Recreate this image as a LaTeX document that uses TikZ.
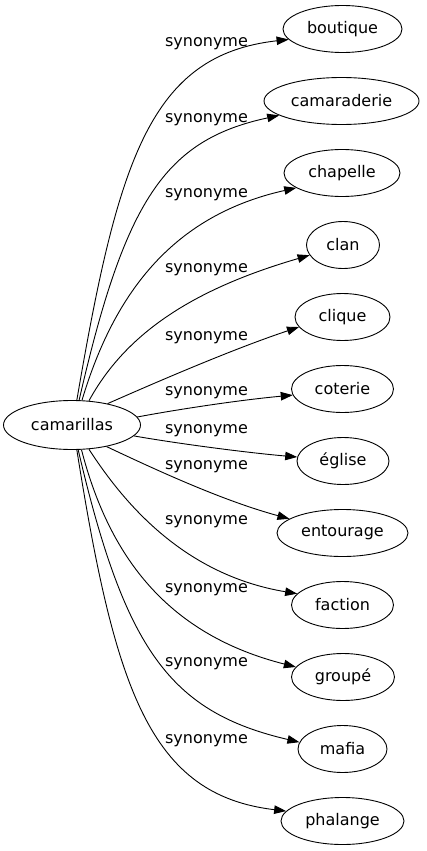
\documentclass[tikz,border=0pt]{standalone}
\usepackage{fontspec}
\setmainfont{DejaVu Sans}
\usetikzlibrary{shapes.geometric,arrows.meta}
\begin{document}
\begin{tikzpicture}[x=1pt,y=-1pt,
  word/.style={draw,ellipse,minimum height=47pt,inner sep=0pt,line width=0.9pt,
    font=\fontsize{16}{19}\selectfont},
  syn/.style={inner sep=0pt,font=\fontsize{16}{19}\selectfont},
  arc/.style={-{Triangle[length=12pt,width=8.5pt]},line width=0.9pt}]
\useasboundingbox (0,0) rectangle (426,851);

\node[word,minimum width=137pt,minimum height=49pt] (cam) at (72,425) {camarillas};

\node[word,minimum width=119pt] (boutique) at (342.5,29) {boutique};
\node[word,minimum width=155pt] (camaraderie) at (341.5,101) {camaraderie};
\node[word,minimum width=116pt] (chapelle) at (342,173) {chapelle};
\node[word,minimum width=73pt] (clan) at (343,245) {clan};
\node[word,minimum width=95pt] (clique) at (342.5,317) {clique};
\node[word,minimum width=102pt] (coterie) at (342.5,389) {coterie};
\node[word,minimum width=92pt] (eglise) at (343,461) {église};
\node[word,minimum width=131pt] (entourage) at (342.5,533) {entourage};
\node[word,minimum width=102pt] (faction) at (342.5,605) {faction};
\node[word,minimum width=103pt] (groupe) at (343,677) {groupé};
\node[word,minimum width=89pt] (mafia) at (342.5,749) {mafia};
\node[word,minimum width=123pt] (phalange) at (342.5,821) {phalange};

\node[syn] (l1) at (206.5,44) {synonyme};
\node[syn] (l2) at (206.5,120) {synonyme};
\node[syn] (l3) at (206.5,195) {synonyme};
\node[syn] (l4) at (206.5,270) {synonyme};
\node[syn] (l5) at (206.5,338) {synonyme};
\node[syn] (l6) at (206.5,393) {synonyme};
\node[syn] (l7) at (206.5,431) {synonyme};
\node[syn] (l8) at (206.5,467) {synonyme};
\node[syn] (l9) at (206.5,522) {synonyme};
\node[syn] (l10) at (206.5,590) {synonyme};
\node[syn] (l11) at (206.5,664) {synonyme};
\node[syn] (l12) at (206.5,741) {synonyme};

\draw[arc] (cam.79) .. controls (118,160) and (150,55) .. (boutique.191);
\draw[arc] (cam.74) .. controls (125,200) and (165,140) .. (camaraderie.193);
\draw[arc] (cam.68) .. controls (115,290) and (175,215) .. (chapelle.198);
\draw[arc] (cam.55) .. controls (125,335) and (190,290) .. (clan.197);
\draw[arc] (cam.31) .. controls (150,385) and (230,350) .. (clique.193);
\draw[arc] (cam.7) .. controls (180,409) and (240,400) .. (coterie.187);
\draw[arc] (cam.-10) .. controls (180,444) and (250,453) .. (eglise.175);
\draw[arc] (cam.-32) .. controls (150,467) and (220,500) .. (entourage.165);
\draw[arc] (cam.-55) .. controls (125,505) and (185,575) .. (faction.166);
\draw[arc] (cam.-69) .. controls (110,560) and (170,635) .. (groupe.168);
\draw[arc] (cam.-76) .. controls (125,650) and (170,712) .. (mafia.171);
\draw[arc] (cam.-79) .. controls (115,690) and (150,795) .. (phalange.170);
\end{tikzpicture}
\end{document}
